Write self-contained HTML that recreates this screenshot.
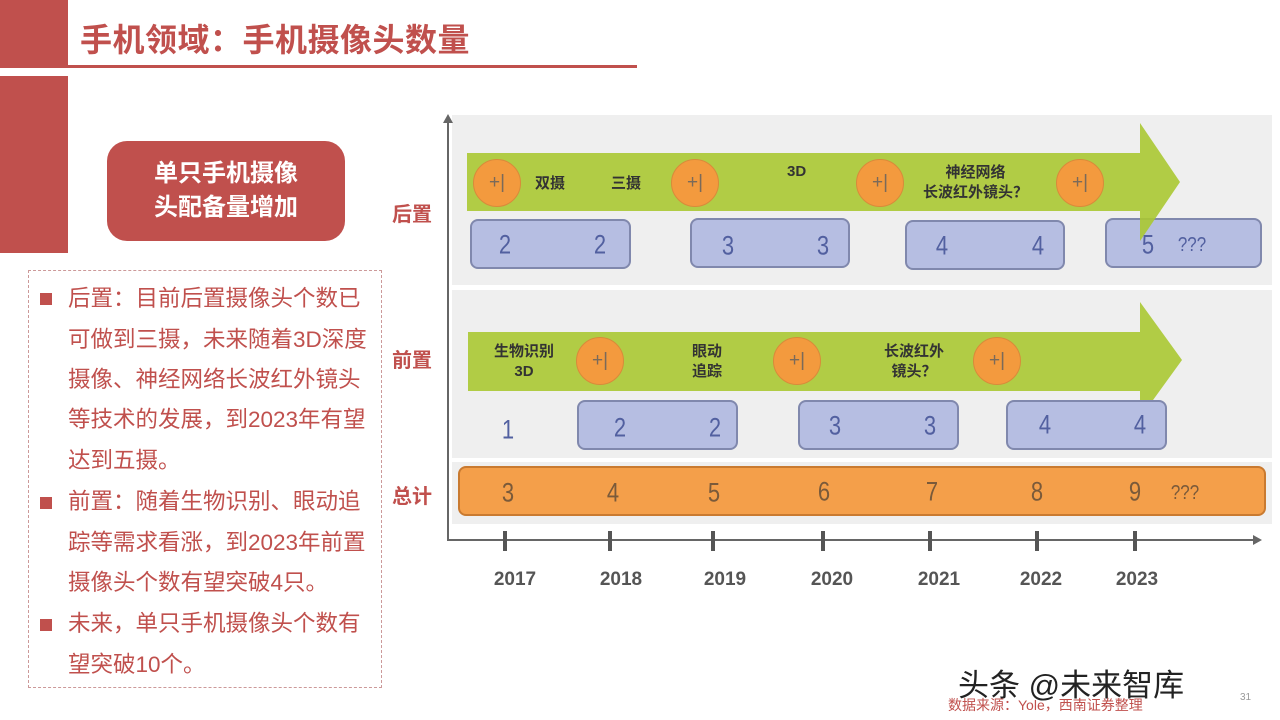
<!DOCTYPE html>
<html><head><meta charset="utf-8"><style>
*{margin:0;padding:0;box-sizing:border-box}
body{width:1280px;height:720px;background:#fff;position:relative;overflow:hidden;font-family:"Liberation Sans","Noto Sans CJK SC",sans-serif}
.a{position:absolute}
.t{position:absolute;left:68px;font-size:22.5px;color:#c0504d;white-space:nowrap;line-height:30px;height:30px}
.sq{position:absolute;left:40px;width:12px;height:12px;background:#c0504d}
.lab{position:absolute;font-size:20px;font-weight:bold;color:#c0504d}
.c{position:absolute;width:48px;height:48px;border-radius:50%;background:#f39a3e;border:1.5px solid #d98a3a;color:#7a6a5a;font-size:19px;text-align:center;line-height:45px}
.bx{position:absolute;height:50px;background:#b6bee2;border:2px solid #8088ad;border-radius:8px}
.n{position:absolute;font-size:22px;color:#5260a0;transform:translate(-50%,-50%) scaleY(1.2)}
.g{position:absolute;font-size:15px;font-weight:bold;color:#333;text-align:center;line-height:20px;white-space:nowrap}
.yr{position:absolute;top:569px;font-size:19px;font-weight:bold;color:#555;transform:translateX(-50%)}
.tk{position:absolute;top:531px;width:4px;height:20px;background:#555}
</style></head><body>
<div class="a" style="left:0;top:0;width:68px;height:68px;background:#c0504d"></div>
<div class="a" style="left:0;top:76px;width:68px;height:177px;background:#c0504d"></div>
<div class="a" style="left:80px;top:15px;font-size:32px;font-weight:bold;color:#c0504d;letter-spacing:0.5px">手机领域：手机摄像头数量</div>
<div class="a" style="left:55px;top:65px;width:582px;height:3px;background:#c0504d"></div>
<div class="a" style="left:107px;top:141px;width:238px;height:100px;background:#c0504d;border-radius:20px;color:#fff;font-size:24px;font-weight:bold;text-align:center;line-height:34px;padding-top:16px">单只手机摄像<br>头配备量增加</div>
<div class="a" style="left:28px;top:270px;width:354px;height:418px;border:1.5px dashed #c99"></div>
<div class="sq" style="top:293px"></div>
<div class="t" style="top:284px">后置：目前后置摄像头个数已</div>
<div class="t" style="top:325px">可做到三摄，未来随着3D深度</div>
<div class="t" style="top:365px">摄像、神经网络长波红外镜头</div>
<div class="t" style="top:405px">等技术的发展，到2023年有望</div>
<div class="t" style="top:446px">达到五摄。</div>
<div class="sq" style="top:497px"></div>
<div class="t" style="top:487px">前置：随着生物识别、眼动追</div>
<div class="t" style="top:528px">踪等需求看涨，到2023年前置</div>
<div class="t" style="top:568px">摄像头个数有望突破4只。</div>
<div class="sq" style="top:619px"></div>
<div class="t" style="top:609px">未来，单只手机摄像头个数有</div>
<div class="t" style="top:650px">望突破10个。</div>

<!-- chart -->
<div class="a" style="left:452px;top:115px;width:820px;height:170px;background:#efefef"></div>
<div class="a" style="left:452px;top:290px;width:820px;height:168px;background:#efefef"></div>
<div class="a" style="left:452px;top:462px;width:820px;height:62px;background:#efefef"></div>
<div class="a" style="left:447px;top:120px;width:2px;height:421px;background:#666"></div>
<div class="a" style="left:443px;top:114px;width:0;height:0;border-left:5px solid transparent;border-right:5px solid transparent;border-bottom:9px solid #666"></div>
<div class="a" style="left:447px;top:539px;width:808px;height:2px;background:#666"></div>
<div class="a" style="left:1253px;top:535px;width:0;height:0;border-top:5px solid transparent;border-bottom:5px solid transparent;border-left:9px solid #666"></div>
<div class="tk" style="left:503px"></div><div class="tk" style="left:608px"></div><div class="tk" style="left:711px"></div><div class="tk" style="left:821px"></div><div class="tk" style="left:928px"></div><div class="tk" style="left:1035px"></div><div class="tk" style="left:1133px"></div>
<div class="yr" style="left:515px">2017</div><div class="yr" style="left:621px">2018</div><div class="yr" style="left:725px">2019</div><div class="yr" style="left:832px">2020</div><div class="yr" style="left:939px">2021</div><div class="yr" style="left:1041px">2022</div><div class="yr" style="left:1137px">2023</div>

<div class="lab" style="left:392px;top:198px">后置</div>
<div class="lab" style="left:392px;top:344px">前置</div>
<div class="lab" style="left:392px;top:480px">总计</div>

<!-- rear boxes -->
<div class="bx" style="left:470px;top:219px;width:161px"></div>
<div class="bx" style="left:690px;top:218px;width:160px"></div>
<div class="bx" style="left:905px;top:220px;width:160px"></div>
<div class="bx" style="left:1105px;top:218px;width:157px"></div>
<svg class="a" style="left:0;top:0" width="1280" height="720"><polygon points="467,153 1140,153 1140,123 1180,182 1140,241 1140,211 467,211" fill="rgba(170,200,50,0.9)"/>
<polygon points="468,332 1140,332 1140,302 1182,360 1140,418 1140,391 468,391" fill="rgba(170,200,50,0.9)"/></svg>
<div class="c" style="left:473px;top:159px">+|</div>
<div class="c" style="left:671px;top:159px">+|</div>
<div class="c" style="left:856px;top:159px">+|</div>
<div class="c" style="left:1056px;top:159px">+|</div>
<div class="g" style="left:535px;top:174px">双摄</div>
<div class="g" style="left:611px;top:174px">三摄</div>
<div class="g" style="left:787px;top:162px">3D</div>
<div class="g" style="left:923px;top:163px">神经网络<br>长波红外镜头？</div>
<div class="n" style="left:505px;top:245px">2</div><div class="n" style="left:600px;top:245px">2</div>
<div class="n" style="left:728px;top:246px">3</div><div class="n" style="left:823px;top:246px">3</div>
<div class="n" style="left:942px;top:246px">4</div><div class="n" style="left:1038px;top:246px">4</div>
<div class="n" style="left:1148px;top:245px">5</div><div class="n" style="left:1192px;top:245px;font-size:17px">???</div>

<!-- front -->
<div class="bx" style="left:577px;top:400px;width:161px"></div>
<div class="bx" style="left:798px;top:400px;width:161px"></div>
<div class="bx" style="left:1006px;top:400px;width:161px"></div>
<div class="c" style="left:576px;top:337px">+|</div>
<div class="c" style="left:773px;top:337px">+|</div>
<div class="c" style="left:973px;top:337px">+|</div>
<div class="g" style="left:494px;top:342px">生物识别<br>3D</div>
<div class="g" style="left:692px;top:342px">眼动<br>追踪</div>
<div class="g" style="left:884px;top:342px">长波红外<br>镜头？</div>
<div class="n" style="left:508px;top:430px">1</div>
<div class="n" style="left:620px;top:428px">2</div><div class="n" style="left:715px;top:428px">2</div>
<div class="n" style="left:835px;top:426px">3</div><div class="n" style="left:930px;top:426px">3</div>
<div class="n" style="left:1045px;top:425px">4</div><div class="n" style="left:1140px;top:425px">4</div>

<!-- total -->
<div class="a" style="left:458px;top:466px;width:808px;height:50px;background:#f49f4a;border:2px solid #c97a30;border-radius:8px"></div>
<div class="n" style="left:508px;top:493px;color:#7a5a3a">3</div>
<div class="n" style="left:613px;top:493px;color:#7a5a3a">4</div>
<div class="n" style="left:714px;top:493px;color:#7a5a3a">5</div>
<div class="n" style="left:824px;top:492px;color:#7a5a3a">6</div>
<div class="n" style="left:932px;top:492px;color:#7a5a3a">7</div>
<div class="n" style="left:1037px;top:492px;color:#7a5a3a">8</div>
<div class="n" style="left:1135px;top:492px;color:#7a5a3a">9</div>
<div class="n" style="left:1185px;top:493px;color:#7a5a3a;font-size:17px">???</div>

<div class="a" style="left:958px;top:660px;font-size:31px;color:#222;white-space:nowrap">头条 @未来智库</div>
<div class="a" style="left:948px;top:695px;font-size:14px;color:#c0504d;white-space:nowrap">数据来源：Yole，西南证券整理</div>
<div class="a" style="left:1240px;top:692px;font-size:10px;color:#999">31</div>
</body></html>
